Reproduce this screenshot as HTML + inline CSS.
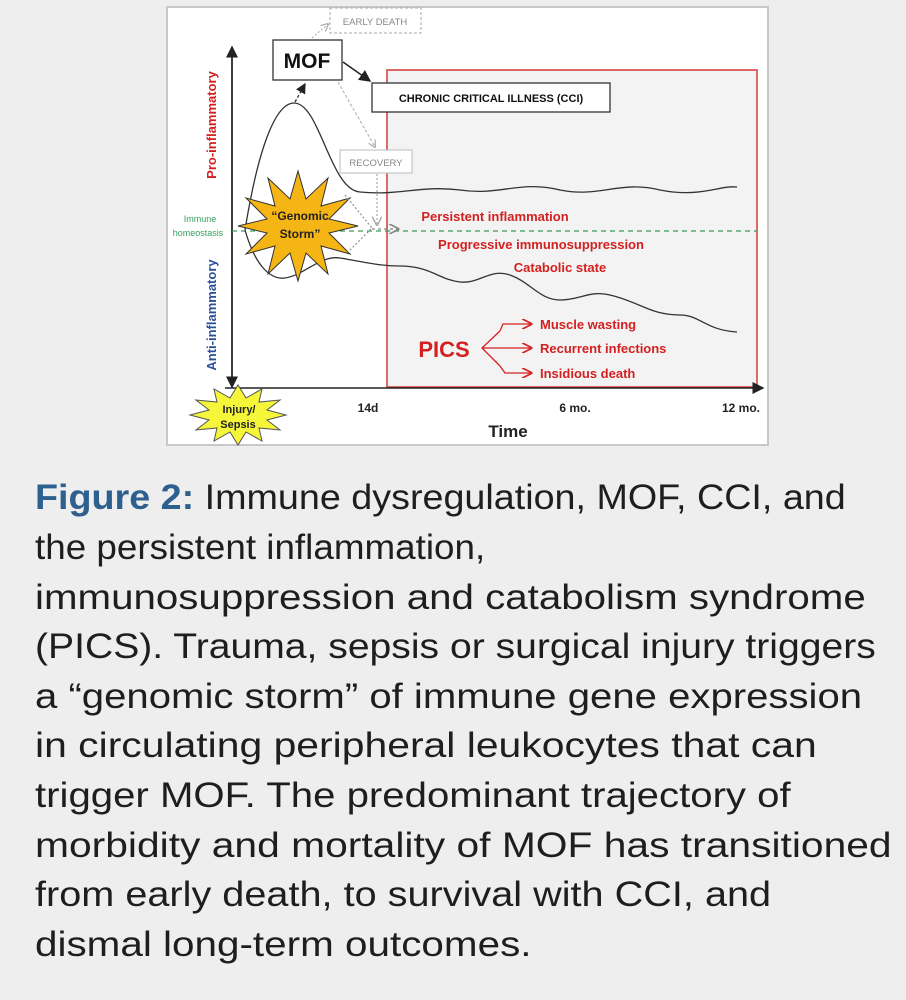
<!DOCTYPE html>
<html><head><meta charset="utf-8"><style>
html,body{margin:0;padding:0;background:#eeeeee;width:906px;height:1000px;overflow:hidden;}
.fig{position:absolute;left:0;top:0;}
.cap{position:absolute;left:35px;font-family:"Liberation Sans",sans-serif;font-size:35px;color:#1e1e1e;white-space:nowrap;line-height:40px;transform-origin:0 0;}
.cap b{color:#2d5f8f;}
</style></head><body>
<svg class="fig" width="906" height="460" xmlns="http://www.w3.org/2000/svg" font-family="Liberation Sans, sans-serif">
<defs>
<marker id="ah" markerWidth="8" markerHeight="8" refX="7" refY="4" orient="auto"><path d="M0,0 L8,4 L0,8 Z" fill="#222"/></marker>
<marker id="ahg" markerWidth="8" markerHeight="8" refX="7" refY="4" orient="auto"><path d="M0,0 L8,4 L0,8" fill="none" stroke="#aaa" stroke-width="1.2"/></marker>
<marker id="ahr" markerWidth="8" markerHeight="8" refX="7" refY="4" orient="auto"><path d="M0,0 L8,4 L0,8" fill="none" stroke="#d42020" stroke-width="1.3"/></marker>
<marker id="ahgreen" markerWidth="8" markerHeight="8" refX="7" refY="4" orient="auto"><path d="M0,0 L8,4 L0,8" fill="none" stroke="#888" stroke-width="1.3"/></marker>
</defs>
<rect x="167" y="7" width="601" height="438" fill="#fff" stroke="#c8c8c8" stroke-width="2"/>
<rect x="387" y="70" width="370" height="317" fill="#f3f3f3" stroke="#d43a3a" stroke-width="1.5"/>
<line x1="232" y1="385" x2="232" y2="47" stroke="#222" stroke-width="1.5" marker-end="url(#ah)"/>
<line x1="232" y1="50" x2="232" y2="387" stroke="#222" stroke-width="1.5" marker-end="url(#ah)"/>
<line x1="225" y1="388" x2="763" y2="388" stroke="#222" stroke-width="1.5" marker-end="url(#ah)"/>
<line x1="232" y1="231" x2="757" y2="231" stroke="#3a9a5a" stroke-width="1.2" stroke-dasharray="5,4"/>
<path d="M245,230 C258,150 275,103 294,103 C320,103 330,190 360,192 C400,196 420,185 460,190 C500,196 520,180 560,190 C600,198 620,180 660,190 C700,198 720,185 737,187" fill="none" stroke="#333" stroke-width="1.3"/>
<path d="M245,230 C255,265 270,280 285,278 C305,275 320,255 340,258 C370,263 380,266 400,266 C430,266 440,280 460,282 C480,284 490,268 510,275 C530,282 540,300 560,300 C580,300 590,290 610,295 C640,302 650,315 680,315 C700,315 705,330 737,332" fill="none" stroke="#333" stroke-width="1.3"/>
<polygon points="358,226 329,233 350,254 321,246 328,274 306,253 298,281 290,253 268,274 275,246 246,254 267,233 238,226 267,219 246,198 275,206 268,178 290,199 298,171 306,199 328,178 321,206 350,198 329,219" fill="#f5b514" stroke="#333" stroke-width="1"/>
<text x="300" y="220" font-size="12" font-weight="bold" text-anchor="middle" fill="#222">“Genomic</text>
<text x="300" y="238" font-size="12" font-weight="bold" text-anchor="middle" fill="#222">Storm”</text>
<path d="M345,195 L372,228 L348,252" fill="none" stroke="#999" stroke-width="1.3" stroke-dasharray="2,2"/>
<line x1="372" y1="229" x2="398" y2="229" stroke="#888" stroke-width="1.3" stroke-dasharray="3,3" marker-end="url(#ahgreen)"/>
<rect x="273" y="40" width="69" height="40" fill="#fff" stroke="#333" stroke-width="1.3"/>
<text x="307" y="68" font-size="21" font-weight="bold" text-anchor="middle" fill="#111">MOF</text>
<line x1="295" y1="102" x2="305" y2="84" stroke="#333" stroke-width="1.3" stroke-dasharray="3,2" marker-end="url(#ah)"/>
<rect x="330" y="8" width="91" height="25" fill="#fff" stroke="#aaa" stroke-width="1" stroke-dasharray="3,2"/>
<text x="375" y="25" font-size="9.5" text-anchor="middle" fill="#888">EARLY DEATH</text>
<line x1="312" y1="38" x2="328" y2="24" stroke="#aaa" stroke-width="1" stroke-dasharray="2,2" marker-end="url(#ahg)"/>
<line x1="343" y1="62" x2="370" y2="81" stroke="#222" stroke-width="1.5" marker-end="url(#ah)"/>
<rect x="372" y="83" width="238" height="29" fill="#fff" stroke="#333" stroke-width="1.3"/>
<text x="491" y="102" font-size="11" font-weight="bold" text-anchor="middle" fill="#111">CHRONIC CRITICAL ILLNESS (CCI)</text>
<line x1="338" y1="82" x2="375" y2="147" stroke="#aaa" stroke-width="1" stroke-dasharray="3,2" marker-end="url(#ahg)"/>
<rect x="340" y="150" width="72" height="23" fill="#fff" stroke="#bbb" stroke-width="1"/>
<text x="376" y="166" font-size="9.5" text-anchor="middle" fill="#888">RECOVERY</text>
<line x1="377" y1="174" x2="377" y2="225" stroke="#aaa" stroke-width="1.2" stroke-dasharray="2,2" marker-end="url(#ahg)"/>
<text transform="translate(216,125) rotate(-90)" font-size="13" font-weight="bold" text-anchor="middle" fill="#d42020">Pro-inflammatory</text>
<text transform="translate(216,315) rotate(-90)" font-size="13" font-weight="bold" text-anchor="middle" fill="#2b4f9a">Anti-inflammatory</text>
<text x="200" y="222" font-size="9" text-anchor="middle" fill="#3aa060">Immune</text>
<text x="198" y="236" font-size="9" text-anchor="middle" fill="#3aa060">homeostasis</text>
<text x="495" y="221" font-size="13" font-weight="bold" text-anchor="middle" fill="#d42020">Persistent inflammation</text>
<text x="541" y="249" font-size="13" font-weight="bold" text-anchor="middle" fill="#d42020">Progressive immunosuppression</text>
<text x="560" y="272" font-size="13" font-weight="bold" text-anchor="middle" fill="#d42020">Catabolic state</text>
<text x="444" y="357" font-size="22" font-weight="bold" text-anchor="middle" fill="#d42020">PICS</text>
<path d="M500,331 L482,348 L500,366" fill="none" stroke="#d42020" stroke-width="1.3"/>
<path d="M500,331 L503,324 L531,324" fill="none" stroke="#d42020" stroke-width="1.3" marker-end="url(#ahr)"/>
<line x1="482" y1="348" x2="531" y2="348" stroke="#d42020" stroke-width="1.3" marker-end="url(#ahr)"/>
<path d="M500,366 L505,373 L531,373" fill="none" stroke="#d42020" stroke-width="1.3" marker-end="url(#ahr)"/>
<text x="540" y="329" font-size="13" font-weight="bold" fill="#d42020">Muscle wasting</text>
<text x="540" y="353" font-size="13" font-weight="bold" fill="#d42020">Recurrent infections</text>
<text x="540" y="378" font-size="13" font-weight="bold" fill="#d42020">Insidious death</text>
<polygon points="286,415 267,420 280,430 259,428 262,441 246,432 238,445 230,432 214,441 217,428 196,430 209,420 190,415 209,410 196,400 217,402 214,389 230,398 238,385 246,398 262,389 259,402 280,400 267,410" fill="#f5f53a" stroke="#555" stroke-width="1"/>
<text x="239" y="413" font-size="11" font-weight="bold" text-anchor="middle" fill="#222">Injury/</text>
<text x="238" y="428" font-size="11" font-weight="bold" text-anchor="middle" fill="#222">Sepsis</text>
<text x="368" y="412" font-size="12" font-weight="bold" text-anchor="middle" fill="#222">14d</text>
<text x="575" y="412" font-size="12" font-weight="bold" text-anchor="middle" fill="#222">6 mo.</text>
<text x="741" y="412" font-size="12" font-weight="bold" text-anchor="middle" fill="#222">12 mo.</text>
<text x="508" y="437" font-size="17" font-weight="bold" text-anchor="middle" fill="#222">Time</text>
</svg>
<div class="cap" style="top:478px;transform:scaleX(1.077)"><b>Figure 2:</b> Immune dysregulation, MOF, CCI, and</div>
<div class="cap" style="top:528px;transform:scaleX(1.052)">the persistent inflammation,</div>
<div class="cap" style="top:578px;transform:scaleX(1.151)">immunosuppression and catabolism syndrome</div>
<div class="cap" style="top:627px;transform:scaleX(1.117)">(PICS). Trauma, sepsis or surgical injury triggers</div>
<div class="cap" style="top:677px;transform:scaleX(1.146)">a “genomic storm” of immune gene expression</div>
<div class="cap" style="top:726px;transform:scaleX(1.168)">in circulating peripheral leukocytes that can</div>
<div class="cap" style="top:776px;transform:scaleX(1.147)">trigger MOF. The predominant trajectory of</div>
<div class="cap" style="top:826px;transform:scaleX(1.165)">morbidity and mortality of MOF has transitioned</div>
<div class="cap" style="top:875px;transform:scaleX(1.133)">from early death, to survival with CCI, and</div>
<div class="cap" style="top:925px;transform:scaleX(1.155)">dismal long-term outcomes.</div>
</body></html>
